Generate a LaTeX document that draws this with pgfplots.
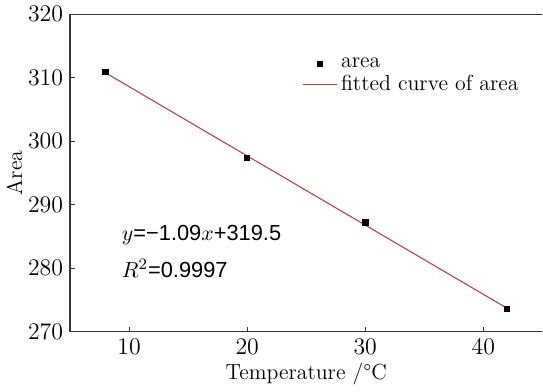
\documentclass[border=0pt]{standalone}
\usepackage{fontspec}
\usepackage{pgfplots}
\pgfplotsset{compat=1.18}
\newfontfamily\eqfont{Liberation Sans}
\definecolor{fitred}{RGB}{175,70,70}
\definecolor{axisgray}{RGB}{55,55,55}

\pgfplotstableread{
x    y
8    310.9
20   297.4
30   287.2
42   273.6
}\areadata

\pgfplotstableread{
x    y
8    310.78
42   273.72
}\fitdata

\begin{document}
\begin{tikzpicture}
\begin{axis}[
  scale only axis,
  width=238pt, height=160pt,
  xmin=5, xmax=45, ymin=270, ymax=320,
  axis x line*=box, axis y line*=left,
  xtick={10,20,30,40}, ytick={270,280,...,320},
  xtick pos=bottom, ytick pos=left,
  tick align=inside,
  major tick length=2.5pt,
  axis line style={line width=0.65pt, color=axisgray},
  tick style={line width=0.6pt, color=axisgray},
  tick label style={font=\fontsize{11.5}{13}\selectfont},
  label style={font=\fontsize{11}{13}\selectfont},
  xlabel={Temperature /\textdegree C},
  ylabel={Area},
  xlabel style={yshift=2.5pt},
  ylabel style={yshift=-4pt},
  legend style={at={(rel axis cs:0.478,0.89)}, anchor=north west,
    draw=none, fill=none, font=\fontsize{11}{12}\selectfont,
    row sep=-1.5pt},
  legend cell align=left,
]
\addplot[only marks, mark=square*, mark size=1.35pt, color=black]
  table[x=x, y=y] {\areadata};
\addlegendentry{area}
\addplot[no marks, color=fitred, line width=0.55pt]
  table[x=x, y=y] {\fitdata};
\addlegendentry{fitted curve of area}

\node[anchor=west, font=\fontsize{11}{13}\selectfont]
  at (rel axis cs:0.095,0.305) {$y$\eqfont=−1.09$x$+319.5};
\node[anchor=west, font=\fontsize{11}{13}\selectfont]
  at (rel axis cs:0.095,0.2) {$R^2$\eqfont=0.9997};
\end{axis}
\end{tikzpicture}
\end{document}
